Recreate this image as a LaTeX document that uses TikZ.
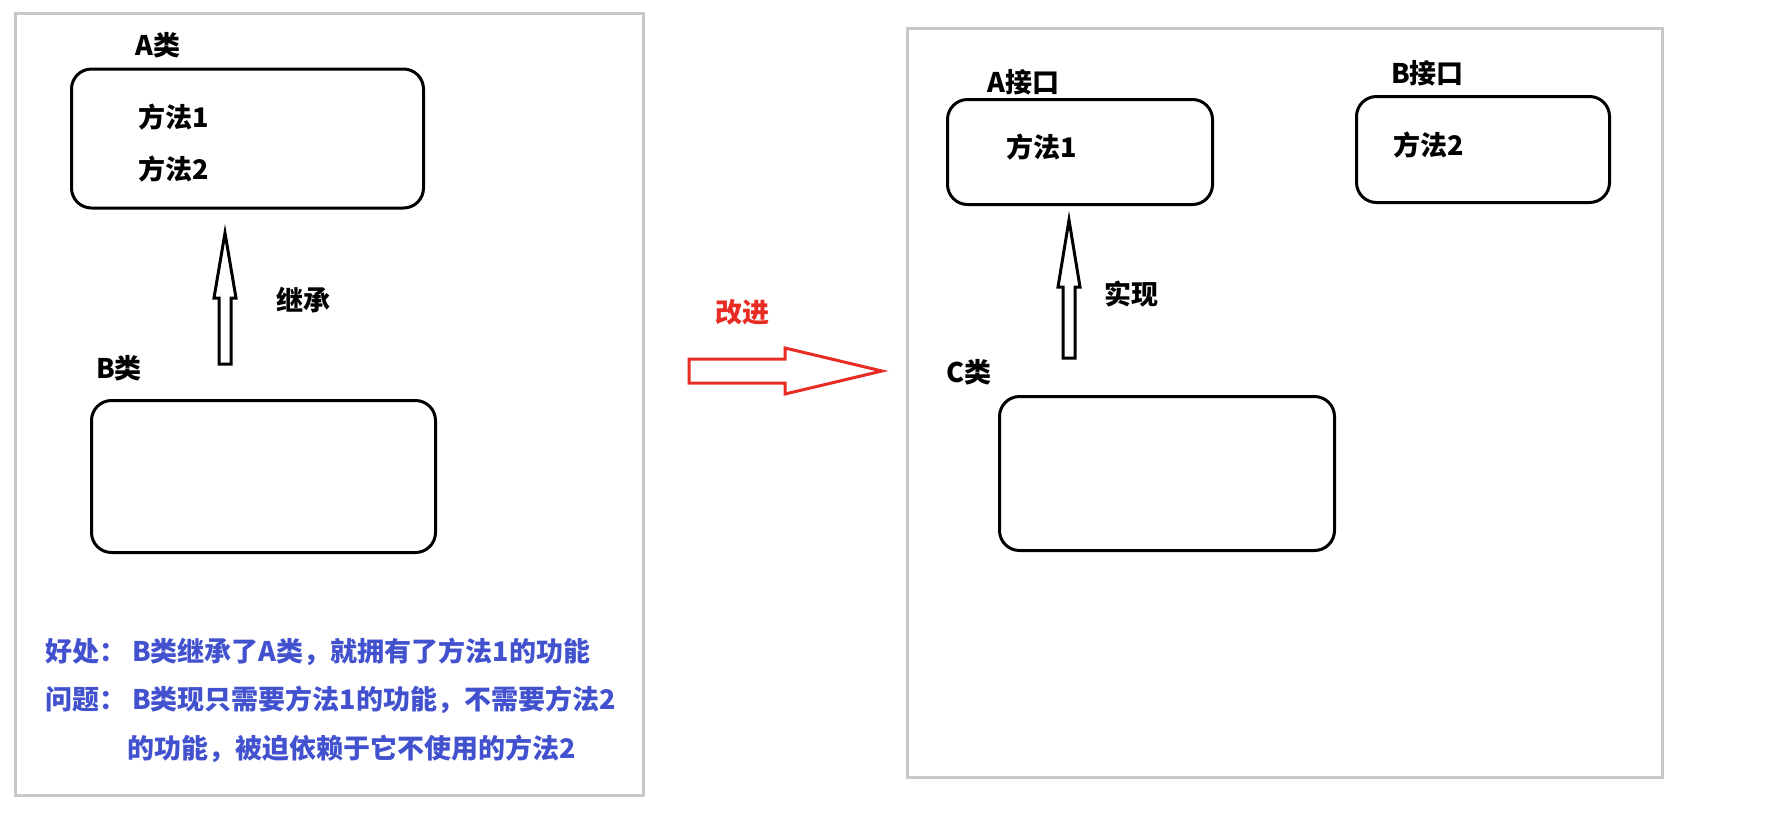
\documentclass[tikz,border=0pt]{standalone}
\usepackage{fontspec}
\setmainfont{Noto Sans CJK SC}
\usetikzlibrary{calc,positioning}
\definecolor{framegray}{RGB}{200,200,200}
\definecolor{noteblue}{RGB}{66,82,206}
\definecolor{fixred}{RGB}{232,44,36}
\tikzset{
  panel/.style={draw=framegray, line width=3pt},
  clsbox/.style={draw, line width=3pt, rounded corners=20pt},
  lbl/.style={anchor=west, inner sep=0pt, font=\bfseries\fontsize{27}{32}\selectfont},
  note/.style={lbl, text=noteblue},
  hollowarrow/.style={draw, line width=3pt, fill=white, miter limit=20},
  fixarrow/.style={draw=fixred, line width=3pt, fill=white, miter limit=20},
}

\begin{document}
\begin{tikzpicture}[x=1pt, y=-1pt]
  \useasboundingbox (0,0) rectangle (1766,815);

  % Two panels
  \draw[panel] (15,13) rectangle (643,795);
  \draw[panel] (907,28) rectangle (1662,777);

  % Left panel: inheritance
  \node[clsbox, minimum width=352pt, minimum height=139pt] (aCls) at (247.5,138.5) {};
  \node[lbl] (aClsName) at (135,45) {A类};
  \node[lbl] (aM1) at (138,117) {方法1};
  \node[lbl] (aM2) at (138,169) {方法2};

  \node[clsbox, minimum width=344pt, minimum height=152pt] (bCls) at (263.5,476.5) {};
  \node[lbl] (bClsName) at (96,368) {B类};

  \coordinate (inhTip) at (225,233);
  \coordinate (inhTail) at (225,364);
  \draw[hollowarrow] ($(inhTail)+(-6,0)$) -- ($(inhTip)+(-6,65)$) -- ($(inhTip)+(-11,65)$)
    -- (inhTip) -- ($(inhTip)+(11,65)$) -- ($(inhTip)+(6,65)$) -- ($(inhTail)+(6,0)$) -- cycle;
  \node[lbl] (inhLbl) at (276,300) {继承};

  % Notes
  \node[note] (gain) at (45,652) {好处：\hspace{6pt}B类继承了A类，就拥有了方法1的功能};
  \node[note] (issue) at (45,700) {问题：\hspace{6pt}B类现只需要方法1的功能，不需要方法2};
  \node[note] (issueCont) at (127,749) {的功能，被迫依赖于它不使用的方法2};

  % Improvement arrow
  \node[lbl, text=fixred] (fixLbl) at (715,312) {改进};
  \coordinate (fixTail) at (689,371);
  \coordinate (fixTip) at (882,371);
  \draw[fixarrow] ($(fixTail)+(0,-12)$) -- ($(fixTip)+(-97,-12)$) -- ($(fixTip)+(-97,-23)$)
    -- (fixTip) -- ($(fixTip)+(-97,23)$) -- ($(fixTip)+(-97,12)$) -- ($(fixTail)+(0,12)$) -- cycle;

  % Right panel: interfaces
  \node[clsbox, minimum width=265pt, minimum height=105pt] (aIfc) at (1080,152) {};
  \node[lbl] (aIfcName) at (987,82) {A接口};
  \node[lbl] (aIfcM1) at (1006,147) {方法1};

  \node[clsbox, minimum width=253pt, minimum height=106pt] (bIfc) at (1483,149.5) {};
  \node[lbl] (bIfcName) at (1391,73) {B接口};
  \node[lbl] (bIfcM2) at (1393,145) {方法2};

  \node[clsbox, minimum width=335pt, minimum height=154pt] (cCls) at (1167,473.5) {};
  \node[lbl] (cClsName) at (946,372) {C类};

  \coordinate (implTip) at (1069,220);
  \coordinate (implTail) at (1069,358);
  \draw[hollowarrow] ($(implTail)+(-6,0)$) -- ($(implTip)+(-6,67)$) -- ($(implTip)+(-11,67)$)
    -- (implTip) -- ($(implTip)+(11,67)$) -- ($(implTip)+(6,67)$) -- ($(implTail)+(6,0)$) -- cycle;
  \node[lbl] (implLbl) at (1104,294) {实现};
\end{tikzpicture}
\end{document}
